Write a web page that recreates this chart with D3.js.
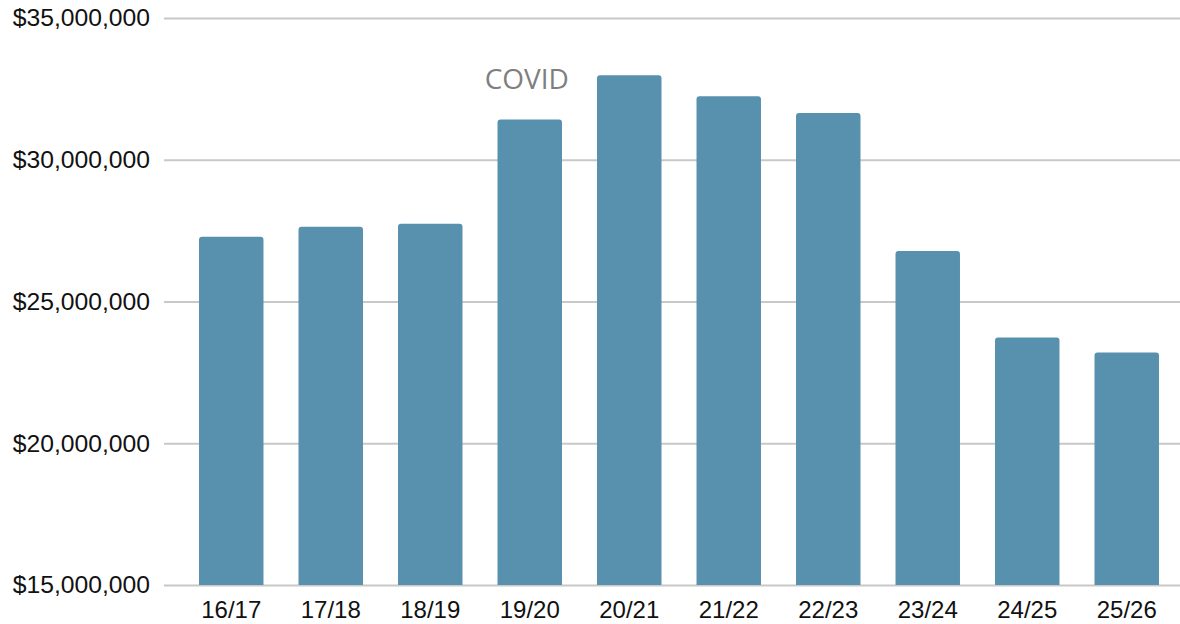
<!DOCTYPE html>
<html>
<head>
<meta charset="utf-8">
<script src="https://cdn.jsdelivr.net/npm/d3@7"></script>
<style>
  html, body { margin: 0; padding: 0; background: #fff; }
  svg { display: block; }
</style>
</head>
<body>
<svg id="chart"></svg>
<script>
// Chart values
const seasons = ["16/17", "17/18", "18/19", "19/20", "20/21", "21/22", "22/23", "23/24", "24/25", "25/26"]
const amounts = [27280000, 27640000, 27740000, 31420000, 32980000, 32240000, 31650000, 26780000, 23730000, 23200000]
const yTicks = [15000000, 20000000, 25000000, 30000000, 35000000]
const note = { label: "COVID", season: "19/20", value: 33000000 }

const width = 1180
const height = 624
const barColor = "#5891ae"

const svg = d3.select("#chart")
  .attr("width", width)
  .attr("height", height)

const x = d3.scaleBand()
  .domain(seasons)
  .range([181.5, 1176.5])
  .paddingInner(0.352)
  .paddingOuter(0.176)

const y = d3.scaleLinear()
  .domain([15000000, 35000000])
  .range([585, 18])

const fmt = d => "$" + d3.format(",")(d)

// Gridlines + y labels
svg.append("g")
  .attr("transform", "translate(164,0)")
  .call(d3.axisLeft(y).tickValues(yTicks).tickFormat(fmt).tickSize(-(width - 164)).tickPadding(14))
  .call(g => g.select(".domain").remove())
  .call(g => g.selectAll(".tick line").attr("stroke", "#c8c8c8").attr("stroke-width", 2))
  .call(g => g.selectAll(".tick text")
    .attr("font-family", "'Liberation Sans', Arial, sans-serif")
    .style("font-size", "24.7px")
    .attr("fill", "#111"))

// Bars with rounded tops only
const r = 3
svg.append("g")
  .selectAll("path")
  .data(seasons.map((s, i) => ({ s, v: amounts[i] })))
  .join("path")
  .attr("fill", barColor)
  .attr("d", d => {
    const x0 = x(d.s), x1 = x0 + x.bandwidth()
    const y0 = y(d.v), yb = y(15000000)
    return `M${x0},${yb}V${y0 + r}Q${x0},${y0} ${x0 + r},${y0}H${x1 - r}Q${x1},${y0} ${x1},${y0 + r}V${yb}Z`
  })

// X labels
svg.append("g")
  .attr("transform", `translate(0,${y(15000000)})`)
  .call(d3.axisBottom(x).tickSize(0).tickPadding(16))
  .call(g => g.select(".domain").remove())
  .call(g => g.selectAll(".tick text")
    .attr("font-family", "'Liberation Sans', Arial, sans-serif")
    .style("font-size", "24px")
    .attr("fill", "#111"))

// Annotation
svg.append("text")
  .attr("x", x(note.season) + x.bandwidth() / 2 - 3)
  .attr("y", y(note.value) + 14)
  .attr("text-anchor", "middle")
  .attr("font-family", "'Open Sans', sans-serif")
  .attr("font-size", 28)
  .attr("fill", "#7f7f7f")
  .text(note.label)
</script>
</body>
</html>
